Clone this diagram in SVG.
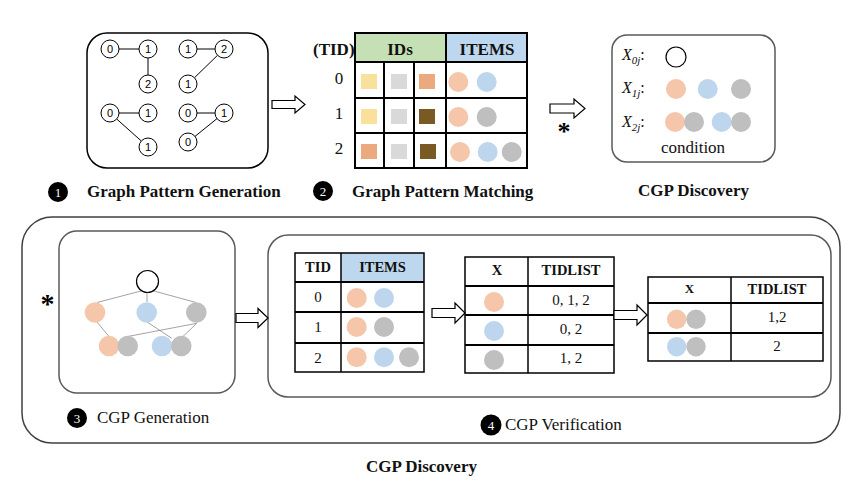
<svg xmlns="http://www.w3.org/2000/svg" width="856" height="488" viewBox="0 0 856 488">
<style>
.panel{fill:none;stroke:#595959;stroke-width:1.5}
.gn circle{fill:#fff;stroke:#000;stroke-width:1}
.gn text{font-family:"Liberation Sans",Arial,sans-serif;font-size:11px;text-anchor:middle}
.edge{stroke:#000;stroke-width:1}
.arrow{fill:#fff;stroke:#000;stroke-width:1.2}
.or{fill:#f5c6a9}.bl{fill:#bdd6ee}.gr{fill:#bfbfbf}
.b{font-family:"Liberation Serif","Times New Roman",serif;font-weight:bold;font-size:17px;fill:#111}
.r{font-family:"Liberation Serif","Times New Roman",serif;font-size:17px;fill:#111}
.c{text-anchor:middle}
.th{font-size:14.5px}
.tx{font-size:13px}
.tv{font-size:15px}
.xl{font-size:16px;font-style:italic}
.tb{stroke:#000;stroke-width:2;fill:none}
.tl{stroke:#000;stroke-width:2}
.tl1{stroke:#000;stroke-width:1.5}
.lat{stroke:#8c8c8c;stroke-width:0.8}
.badge circle{fill:#000}
.badge text{font-family:"Liberation Serif","Times New Roman",serif;font-size:13px;fill:#fff;text-anchor:middle}
.ast{font-family:"Liberation Serif","Times New Roman",serif;font-weight:bold;fill:#000;text-anchor:middle}
</style>

<!-- Panel 1: graph pattern generation -->
<g id="graph-patterns">
  <rect x="87" y="33" width="181" height="135" rx="20" fill="none" stroke="#000" stroke-width="1.5"/>
  <g class="edges">
    <line class="edge" x1="119" y1="49" x2="139" y2="49"/>
    <line class="edge" x1="148" y1="58" x2="148" y2="75"/>
    <line class="edge" x1="197" y1="49" x2="215" y2="49"/>
    <line class="edge" x1="217.5" y1="55.3" x2="194.5" y2="77.7"/>
    <line class="edge" x1="119" y1="113" x2="139" y2="113"/>
    <line class="edge" x1="116.7" y1="119" x2="141.3" y2="141"/>
    <line class="edge" x1="197" y1="113" x2="215" y2="113"/>
    <line class="edge" x1="217" y1="118.6" x2="195" y2="136.4"/>
  </g>
  <g class="gn">
    <circle cx="110" cy="49" r="9"/><text x="110" y="53">0</text>
    <circle cx="148" cy="49" r="9"/><text x="148" y="53">1</text>
    <circle cx="148" cy="84" r="9"/><text x="148" y="88">2</text>
    <circle cx="188" cy="49" r="9"/><text x="188" y="53">1</text>
    <circle cx="224" cy="49" r="9"/><text x="224" y="53">2</text>
    <circle cx="188" cy="84" r="9"/><text x="188" y="88">1</text>
    <circle cx="110" cy="113" r="9"/><text x="110" y="117">0</text>
    <circle cx="148" cy="113" r="9"/><text x="148" y="117">1</text>
    <circle cx="148" cy="147" r="9"/><text x="148" y="151">1</text>
    <circle cx="188" cy="113" r="9"/><text x="188" y="117">0</text>
    <circle cx="224" cy="113" r="9"/><text x="224" y="117">1</text>
    <circle cx="188" cy="142" r="9"/><text x="188" y="146">0</text>
  </g>
</g>
<g id="label-1">
  <g class="badge"><circle cx="58" cy="192" r="10"/><text x="58" y="196.5">1</text></g>
  <text class="b" x="87" y="197">Graph Pattern Generation</text>
</g>

<!-- Panel 2: graph pattern matching table -->
<g id="matching-table">
  <rect x="355" y="33" width="91" height="29" fill="#c5e0b4"/>
  <rect x="446" y="33" width="81" height="29" fill="#bdd7ee"/>
  <text class="b" x="313" y="55">(TID)</text>
  <text class="b c" x="400" y="55">IDs</text>
  <text class="b c" x="487" y="55">ITEMS</text>
  <text class="r c" x="339" y="84">0</text>
  <text class="r c" x="339" y="119">1</text>
  <text class="r c" x="339" y="154">2</text>
  <rect x="361" y="74" width="16" height="15" fill="#f9e19b"/>
  <rect x="391" y="74" width="16" height="15" fill="#d9d9d9"/>
  <rect x="419" y="74" width="16" height="15" fill="#eda97e"/>
  <rect x="361" y="109" width="16" height="15" fill="#f9e19b"/>
  <rect x="391" y="109" width="16" height="15" fill="#d9d9d9"/>
  <rect x="419" y="109" width="16" height="15" fill="#7a5a24"/>
  <rect x="361" y="144" width="16" height="15" fill="#eda97e"/>
  <rect x="391" y="144" width="16" height="15" fill="#d9d9d9"/>
  <rect x="420" y="144" width="16" height="15" fill="#7a5a24"/>
  <circle class="or" cx="458.3" cy="82" r="10"/>
  <circle class="bl" cx="486.7" cy="82" r="10"/>
  <circle class="or" cx="458.3" cy="117" r="10"/>
  <circle class="gr" cx="486.7" cy="117" r="10"/>
  <circle class="or" cx="460" cy="152" r="10"/>
  <circle class="bl" cx="487.7" cy="152" r="10"/>
  <circle class="gr" cx="511.7" cy="152" r="10"/>
  <line class="tl" x1="355" y1="62" x2="527" y2="62"/>
  <line class="tl" x1="355" y1="98" x2="527" y2="98"/>
  <line class="tl" x1="355" y1="133" x2="527" y2="133"/>
  <line class="tl" x1="446" y1="33" x2="446" y2="168"/>
  <line class="tl" x1="384" y1="62" x2="384" y2="168"/>
  <line class="tl" x1="414" y1="62" x2="414" y2="168"/>
  <rect class="tb" x="355" y="33" width="172" height="135"/>
</g>
<g id="label-2">
  <g class="badge"><circle cx="323" cy="191" r="10"/><text x="323" y="195.5">2</text></g>
  <text class="b" x="352" y="197">Graph Pattern Matching</text>
</g>

<!-- Panel: CGP discovery condition -->
<g id="condition-panel">
  <rect class="panel" x="612" y="35" width="163" height="127" rx="15"/>
  <text class="r xl" x="622" y="60">X<tspan font-size="11" dy="4">0j</tspan><tspan font-style="normal" dy="-4">:</tspan></text>
  <text class="r xl" x="622" y="93">X<tspan font-size="11" dy="4">1j</tspan><tspan font-style="normal" dy="-4">:</tspan></text>
  <text class="r xl" x="622" y="127">X<tspan font-size="11" dy="4">2j</tspan><tspan font-style="normal" dy="-4">:</tspan></text>
  <circle cx="676" cy="57" r="10" fill="#fff" stroke="#000" stroke-width="1.2"/>
  <circle class="or" cx="676" cy="89" r="10"/>
  <circle class="bl" cx="707.7" cy="89" r="10"/>
  <circle class="gr" cx="741" cy="89" r="10"/>
  <circle class="or" cx="675" cy="122" r="10"/>
  <circle class="gr" cx="694" cy="122" r="10"/>
  <circle class="bl" cx="721.7" cy="122" r="10"/>
  <circle class="gr" cx="741" cy="122" r="10"/>
  <text class="r c" x="693" y="153">condition</text>
</g>
<text id="label-cgp-top" class="b c" x="693.5" y="196">CGP Discovery</text>
<text id="ast-top" class="ast" x="564" y="140" font-size="26">*</text>

<!-- Bottom outer panel -->
<g id="cgp-discovery-panel">
  <rect x="22" y="217" width="818" height="226" rx="30" fill="none" stroke="#404040" stroke-width="1.5"/>
  <text class="b c" x="421.5" y="472">CGP Discovery</text>
</g>

<!-- Panel 3: CGP generation lattice -->
<g id="cgp-generation">
  <rect class="panel" x="59" y="231" width="176" height="162" rx="18"/>
  <g class="lattice-edges">
    <line class="lat" x1="141" y1="291" x2="97" y2="302.5"/>
    <line class="lat" x1="147" y1="293" x2="147" y2="302"/>
    <line class="lat" x1="154" y1="291" x2="196" y2="302.5"/>
    <line class="lat" x1="96.7" y1="321.7" x2="110" y2="337.7"/>
    <line class="lat" x1="196.7" y1="323.3" x2="126.7" y2="336.7"/>
    <line class="lat" x1="146.7" y1="321.7" x2="171.7" y2="338.3"/>
    <line class="lat" x1="196.7" y1="323.3" x2="181.7" y2="337.7"/>
  </g>
  <circle cx="147.5" cy="281.5" r="11" fill="#fff" stroke="#000" stroke-width="1.2"/>
  <circle class="or" cx="95" cy="312.5" r="10.3"/>
  <circle class="bl" cx="146.7" cy="312.5" r="10.3"/>
  <circle class="gr" cx="196.3" cy="312.5" r="10.3"/>
  <circle class="or" cx="109" cy="346" r="10.3"/>
  <circle class="gr" cx="127.7" cy="346" r="10.3"/>
  <circle class="bl" cx="162" cy="346" r="10.3"/>
  <circle class="gr" cx="181.3" cy="346" r="10.3"/>
</g>
<text id="ast-left" class="ast" x="47.5" y="313" font-size="28">*</text>
<g id="label-3">
  <g class="badge"><circle cx="77" cy="418" r="10"/><text x="77" y="422.5">3</text></g>
  <text class="r" x="97" y="423">CGP Generation</text>
</g>

<!-- Panel 4: CGP verification -->
<g id="cgp-verification">
  <rect class="panel" x="268" y="235" width="563" height="162" rx="20"/>
</g>
<g id="table-tid">
  <rect x="341" y="253" width="83" height="29" fill="#bdd7ee"/>
  <text class="b c th" x="318" y="272">TID</text>
  <text class="b c th" x="382.5" y="272">ITEMS</text>
  <text class="r c tv" x="318" y="302">0</text>
  <text class="r c tv" x="318" y="332">1</text>
  <text class="r c tv" x="318" y="363">2</text>
  <circle class="or" cx="356.7" cy="298" r="10"/>
  <circle class="bl" cx="384" cy="298" r="10"/>
  <circle class="or" cx="356.7" cy="327" r="10"/>
  <circle class="gr" cx="384" cy="327" r="10"/>
  <circle class="or" cx="356.7" cy="357.3" r="10"/>
  <circle class="bl" cx="384" cy="357.3" r="10"/>
  <circle class="gr" cx="409" cy="357.3" r="10"/>
  <line class="tl" x1="295" y1="282" x2="424" y2="282"/>
  <line class="tl" x1="295" y1="312" x2="424" y2="312"/>
  <line class="tl" x1="295" y1="343" x2="424" y2="343"/>
  <line class="tl1" x1="341" y1="253" x2="341" y2="372"/>
  <rect x="295" y="253" width="129" height="119" fill="none" stroke="#000" stroke-width="1.5"/>
</g>
<g id="table-x1">
  <text class="b c th" x="497" y="275">X</text>
  <text class="b c th" x="571" y="275">TIDLIST</text>
  <circle class="or" cx="494" cy="302" r="10"/>
  <circle class="bl" cx="494" cy="331" r="10"/>
  <circle class="gr" cx="494" cy="360" r="10"/>
  <text class="r c tv" x="571" y="305">0, 1, 2</text>
  <text class="r c tv" x="571" y="334">0, 2</text>
  <text class="r c tv" x="571" y="363">1, 2</text>
  <line class="tl" x1="465" y1="286" x2="614" y2="286"/>
  <line class="tl" x1="465" y1="315" x2="614" y2="315"/>
  <line class="tl" x1="465" y1="345" x2="614" y2="345"/>
  <line class="tl1" x1="528" y1="257" x2="528" y2="373"/>
  <rect x="465" y="257" width="149" height="116" fill="none" stroke="#000" stroke-width="1.5"/>
</g>
<g id="table-x2">
  <text class="b c tx" x="689.5" y="293">X</text>
  <text class="b c th" x="777" y="294">TIDLIST</text>
  <circle class="or" cx="676.7" cy="319.3" r="9.7"/>
  <circle class="gr" cx="696" cy="319.3" r="9.7"/>
  <circle class="bl" cx="676.7" cy="346.7" r="9.7"/>
  <circle class="gr" cx="696" cy="346.7" r="9.7"/>
  <text class="r c tv" x="777" y="322">1,2</text>
  <text class="r c tv" x="777" y="351">2</text>
  <line class="tl" x1="648" y1="303" x2="823" y2="303"/>
  <line class="tl" x1="648" y1="333" x2="823" y2="333"/>
  <line class="tl1" x1="731" y1="277" x2="731" y2="361"/>
  <rect x="648" y="277" width="175" height="84" fill="none" stroke="#000" stroke-width="1.5"/>
</g>
<g id="label-4">
  <g class="badge"><circle cx="491" cy="425" r="10.5"/><text x="491" y="429.5">4</text></g>
  <text class="r" x="505" y="430">CGP Verification</text>
</g>

<!-- Connectors -->
<g id="connectors">
  <path class="arrow" d="M272,100.5 H295 V96 L305,104.5 L295,113 V108.5 H272 Z"/>
  <path class="arrow" d="M550,104 H574 V99 L585,108.5 L574,118 V113 H550 Z"/>
  <path class="arrow" d="M236,313.5 H258 V308.5 L268,318 L258,327.5 V322.5 H236 Z"/>
  <path class="arrow" d="M432,308.5 H455 V303 L465,313 L455,323 V317.5 H432 Z"/>
  <path class="arrow" d="M614,310.5 H637 V305 L647,315 L637,325 V319.5 H614 Z"/>
</g>
</svg>
